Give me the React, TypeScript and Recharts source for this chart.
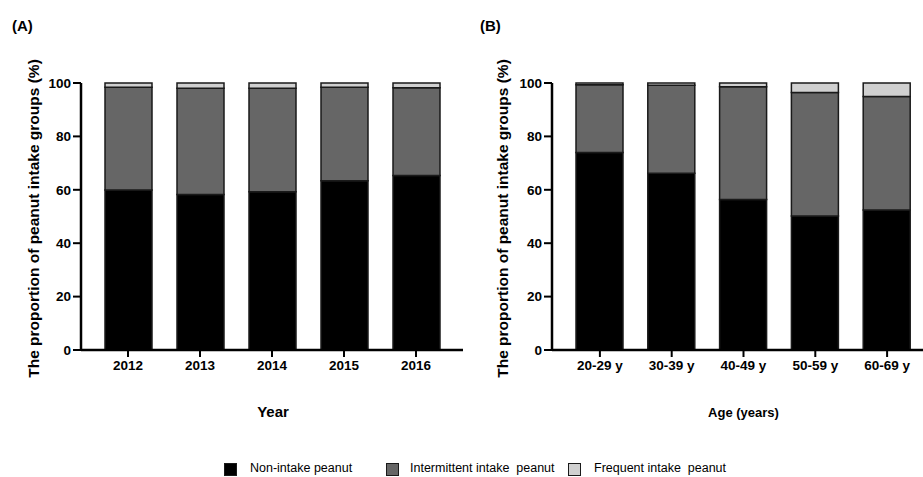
import React from 'react';
import { BarChart, Bar, XAxis, YAxis } from 'recharts';

const years = ['2012', '2013', '2014', '2015', '2016'];
const yearNonIntake = [59.9, 58.2, 59.3, 63.4, 65.4];
const yearIntermittent = [38.5, 39.8, 38.7, 35.0, 32.8];
const yearFrequent = [1.6, 2.0, 2.0, 1.6, 1.8];

const ages = ['20-29 y', '30-39 y', '40-49 y', '50-59 y', '60-69 y'];
const ageNonIntake = [74.0, 66.2, 56.4, 50.2, 52.4];
const ageIntermittent = [25.3, 33.0, 42.2, 46.2, 42.5];
const ageFrequent = [0.7, 0.8, 1.4, 3.6, 5.1];

const yTicks = [0, 20, 40, 60, 80, 100];
const seriesNames = ['Non-intake peanut', 'Intermittent intake  peanut', 'Frequent intake  peanut'];
const seriesKeys = ['non', 'inter', 'freq'];
const colors = ['#000000', '#666666', '#d0d0d0'];
const yLabel = 'The proportion of peanut intake groups (%)';

const FONT = "'Liberation Sans', Arial, Helvetica, sans-serif";

const build = (cats: string[], a: number[], b: number[], c: number[]) =>
  cats.map((cat, i) => ({ cat, non: a[i], inter: b[i], freq: c[i] }));

const yearData = build(years, yearNonIntake, yearIntermittent, yearFrequent);
const ageData = build(ages, ageNonIntake, ageIntermittent, ageFrequent);

type PanelProps = {
  data: any[];
  width: number;
  yAxisWidth: number;
  marginRight: number;
  padLeft: number;
  padRight: number;
  xTitle: string;
  xTitleSize: number;
  xTitleDx: number;
  yLabelX: number;
};

const Panel = ({ data, width, yAxisWidth, marginRight, padLeft, padRight, xTitle, xTitleSize, xTitleDx, yLabelX }: PanelProps) => (
  <BarChart
    width={width}
    height={430}
    data={data}
    margin={{ top: 83, right: marginRight, bottom: 50, left: 0 }}
    barCategoryGap={0}
  >
    <XAxis
      dataKey="cat"
      height={30}
      padding={{ left: padLeft, right: padRight }}
      axisLine={{ stroke: '#000', strokeWidth: 2.5 }}
      tickLine={{ stroke: '#000', strokeWidth: 2 }}
      tickSize={7}
      tickMargin={3}
      tick={{ fill: '#000', fontSize: 13.5, fontWeight: 700, fontFamily: FONT }}
      label={(props: any) => {
        const vb = props.viewBox;
        return (
          <text
            x={vb.x + vb.width / 2 + xTitleDx}
            y={417}
            textAnchor="middle"
            fontSize={xTitleSize}
            fontWeight={700}
            fontFamily={FONT}
            fill="#000"
          >
            {xTitle}
          </text>
        );
      }}
    />
    <YAxis
      width={yAxisWidth}
      domain={[0, 100]}
      ticks={yTicks}
      interval={0}
      axisLine={{ stroke: '#000', strokeWidth: 2.5 }}
      tickLine={{ stroke: '#000', strokeWidth: 2 }}
      tickSize={8}
      tickMargin={2}
      tick={{ fill: '#000', fontSize: 13.5, fontWeight: 700, fontFamily: FONT }}
      label={(props: any) => {
        const vb = props.viewBox;
        const cy = vb.y + vb.height / 2 + 2;
        return (
          <text
            x={yLabelX}
            y={cy}
            transform={`rotate(-90, ${yLabelX}, ${cy})`}
            textAnchor="middle"
            dominantBaseline="central"
            fontSize={15.5}
            fontWeight={700}
            fontFamily={FONT}
            fill="#000"
          >
            {yLabel}
          </text>
        );
      }}
    />
    {seriesKeys.map((k, i) => (
      <Bar
        key={k}
        dataKey={k}
        name={seriesNames[i]}
        stackId="s"
        fill={colors[i]}
        stroke="#1a1a1a"
        strokeWidth={1.5}
        barSize={47}
        isAnimationActive={false}
      />
    ))}
  </BarChart>
);

const legendPos = [
  { box: 224, text: 250 },
  { box: 386, text: 410 },
  { box: 568, text: 594 },
];

export default function App() {
  return (
    <div
      style={{
        position: 'absolute',
        left: 0,
        top: 0,
        width: 923,
        height: 477,
        background: '#fff',
        fontFamily: FONT,
        overflow: 'hidden',
      }}
    >
      <div style={{ position: 'absolute', left: 0, top: 0 }}>
        <Panel
          data={yearData}
          width={470}
          yAxisWidth={81}
          marginRight={7}
          padLeft={11}
          padRight={11}
          xTitle="Year"
          xTitleSize={15}
          xTitleDx={1}
          yLabelX={33}
        />
      </div>
      <div style={{ position: 'absolute', left: 460, top: 0 }}>
        <Panel
          data={ageData}
          width={463}
          yAxisWidth={92}
          marginRight={0}
          padLeft={12}
          padRight={0}
          xTitle="Age (years)"
          xTitleSize={13}
          xTitleDx={6}
          yLabelX={42}
        />
      </div>
      <div style={{ position: 'absolute', left: 12, top: 17, fontSize: 15, fontWeight: 700, lineHeight: '17px' }}>(A)</div>
      <div style={{ position: 'absolute', left: 480, top: 17, fontSize: 15, fontWeight: 700, lineHeight: '17px' }}>(B)</div>
      {seriesNames.map((n, i) => (
        <React.Fragment key={n}>
          <div
            style={{
              position: 'absolute',
              left: legendPos[i].box,
              top: 463,
              width: 11,
              height: 11,
              background: colors[i],
              border: '1.5px solid #1a1a1a',
            }}
          />
          <div
            style={{
              position: 'absolute',
              left: legendPos[i].text,
              top: 461,
              fontSize: 12.5,
              lineHeight: '15px',
              whiteSpace: 'pre',
              color: '#000',
            }}
          >
            {n}
          </div>
        </React.Fragment>
      ))}
    </div>
  );
}
